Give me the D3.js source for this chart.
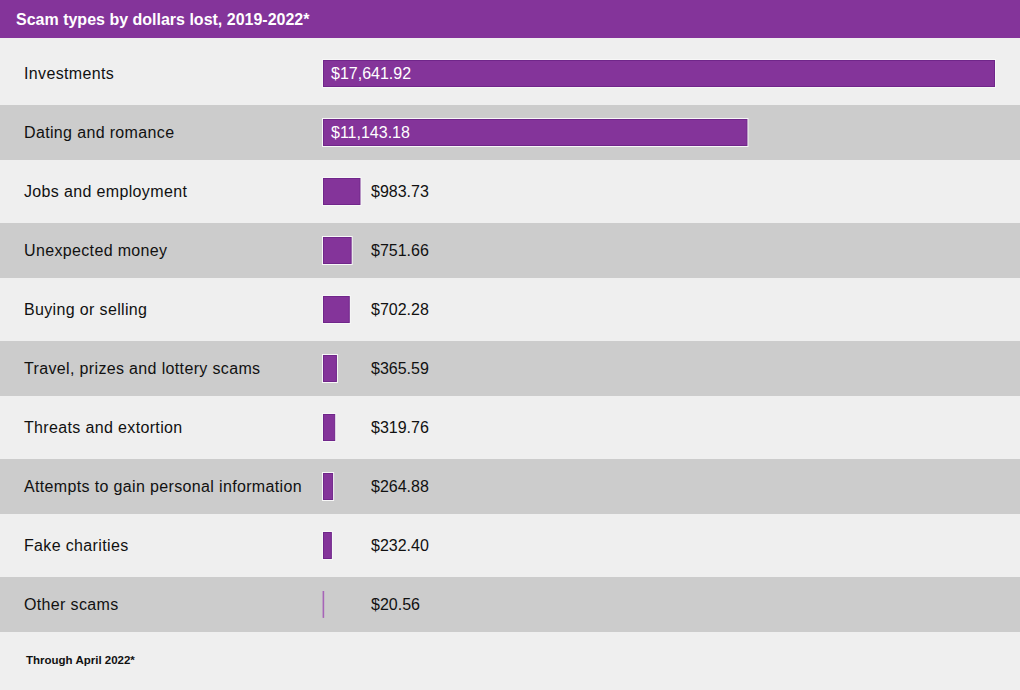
<!DOCTYPE html>
<html>
<head>
<meta charset="utf-8">
<script src="https://cdn.jsdelivr.net/npm/d3@7"></script>
<style>
  body { margin: 0; background: #efefef; }
  text { font-family: "Liberation Sans", Arial, sans-serif; }
</style>
</head>
<body>
<div id="chart"></div>
<script>
const categories = [
  "Investments",
  "Dating and romance",
  "Jobs and employment",
  "Unexpected money",
  "Buying or selling",
  "Travel, prizes and lottery scams",
  "Threats and extortion",
  "Attempts to gain personal information",
  "Fake charities",
  "Other scams"
];
const dollarsLost = [17641.92, 11143.18, 983.73, 751.66, 702.28, 365.59, 319.76, 264.88, 232.40, 20.56];
const title = "Scam types by dollars lost, 2019-2022*";
const footnote = "Through April 2022*";

const width = 1020, height = 690;
const purple = "#84349a";

const data = categories.map((c, i) => ({ name: c, value: dollarsLost[i], i: i }));

const svg = d3.select("#chart")
  .append("svg")
    .attr("width", width)
    .attr("height", height);

svg.append("rect")
  .attr("width", width)
  .attr("height", height)
  .attr("fill", "#efefef");

// header
svg.append("rect")
  .attr("width", width)
  .attr("height", 38)
  .attr("fill", purple);

svg.append("text")
  .attr("x", 16)
  .attr("y", 25)
  .attr("fill", "#fff")
  .attr("font-size", 16)
  .attr("font-weight", "bold")
  .text(title);

let y = d3.scaleBand()
  .domain(categories)
  .range([44, 634])
  .paddingInner(0);

let x = d3.scaleLinear()
  .domain([0, d3.max(dollarsLost)])
  .range([323, 995]);

const fmt = d3.format("$,.2f");
const mid = d => y(d.name) + y.bandwidth() / 2;

// alternating row shading
svg.append("g")
  .selectAll("rect")
  .data(data.filter(d => d.i % 2 === 1))
  .enter()
  .append("rect")
    .attr("x", 0)
    .attr("width", width)
    .attr("y", d => mid(d) - 27.5)
    .attr("height", 55)
    .attr("fill", "#cccccc");

// category labels
svg.append("g")
  .selectAll("text")
  .data(data)
  .enter()
  .append("text")
    .attr("x", 24)
    .attr("y", d => mid(d) + 5.5)
    .attr("font-size", 16)
    .attr("letter-spacing", 0.35)
    .attr("fill", "#111")
    .text(d => d.name);

// bars: light halo then filled bar
const bars = svg.append("g");
bars.selectAll("rect.halo")
  .data(data.filter(d => x(d.value) - x(0) > 3))
  .enter()
  .append("rect")
    .attr("class", "halo")
    .attr("x", x(0) - 1)
    .attr("y", d => mid(d) - 14.5)
    .attr("width", d => x(d.value) - x(0) + 2)
    .attr("height", 29)
    .attr("fill", "#f7f7f7");

bars.selectAll("rect.bar")
  .data(data)
  .enter()
  .append("rect")
    .attr("class", "bar")
    .attr("x", d => x(d.value) - x(0) > 3 ? x(0) + 0.5 : x(0))
    .attr("y", d => mid(d) - 13)
    .attr("width", d => x(d.value) - x(0) > 3 ? x(d.value) - x(0) - 1 : x(d.value) - x(0))
    .attr("height", 26)
    .attr("fill", purple)
    .attr("stroke", d => x(d.value) - x(0) > 3 ? "#70268a" : "#a764b8")
    .attr("stroke-width", d => x(d.value) - x(0) > 3 ? 1 : 0.8);

// value labels
svg.append("g")
  .selectAll("text")
  .data(data)
  .enter()
  .append("text")
    .attr("x", d => d.value > 5000 ? 331 : 371)
    .attr("y", d => mid(d) + 5.5)
    .attr("font-size", 16)
    .attr("fill", d => d.value > 5000 ? "#fff" : "#111")
    .text(d => fmt(d.value));

svg.append("text")
  .attr("x", 26)
  .attr("y", 664)
  .attr("font-size", 11.5)
  .attr("font-weight", "bold")
  .attr("fill", "#111")
  .text(footnote);
</script>
</body>
</html>
